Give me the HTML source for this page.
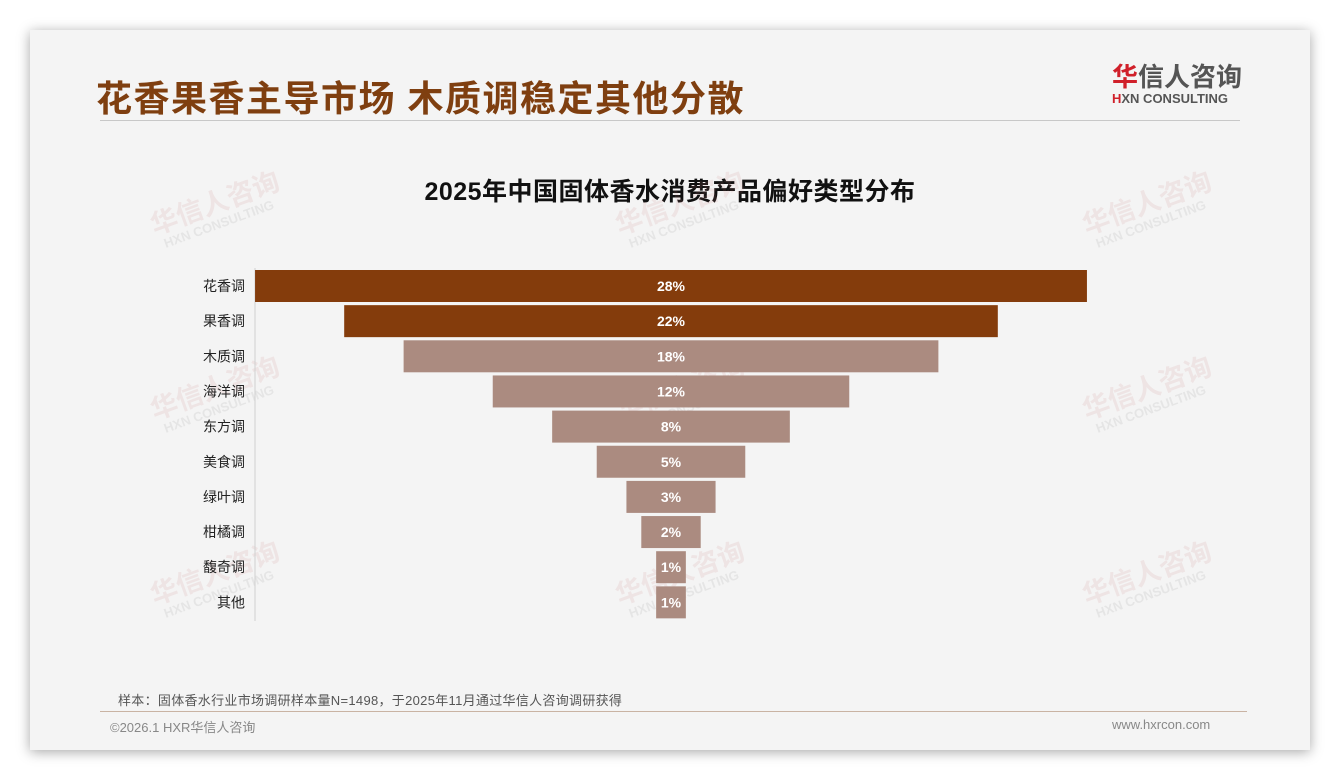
<!DOCTYPE html>
<html><head><meta charset="utf-8"><style>
*{margin:0;padding:0;box-sizing:border-box}
body{width:1340px;height:780px;background:#fff;position:relative;overflow:hidden;font-family:"Liberation Sans","Noto Sans CJK SC",sans-serif}
#card{position:absolute;left:30px;top:30px;width:1280px;height:720px;background:#f4f4f4;box-shadow:0 2px 12px rgba(0,0,0,.35)}
.abs{position:absolute}
.wm{position:absolute;transform:rotate(-20deg);color:rgba(200,120,120,.13);font-weight:bold;line-height:1}
.wm .a{font-size:27px}.wm .b{font-size:13px;margin-left:6px;color:rgba(150,150,150,.15)}
</style></head><body>
<div id="card"></div>
<div class="abs" style="left:96px;top:70px;font-size:36px;font-weight:bold;color:#7f3f10;letter-spacing:1.5px;white-space:nowrap">花香果香主导市场 木质调稳定其他分散</div>
<div class="abs" style="left:100px;top:120px;width:1140px;height:1px;background:#c8c8c8"></div>
<div class="abs" style="left:1112px;top:63px;text-align:left">
<div style="font-size:26px;font-weight:bold;color:#555;line-height:28px"><span style="color:#d0202a">华</span>信人咨询</div>
<div style="font-size:13px;font-weight:bold;color:#555;line-height:16px"><span style="color:#d0202a">H</span>XN CONSULTING</div></div>
<div class="abs" style="left:0;width:1340px;top:172px;text-align:center;font-size:25px;font-weight:bold;color:#111;letter-spacing:0.5px">2025年中国固体香水消费产品偏好类型分布</div>
<div id="wms"></div>
<svg class="abs" style="left:0;top:0" width="1340" height="780" id="chart"></svg>
<div class="abs" style="left:118px;top:690px;font-size:13px;color:#555;letter-spacing:0.3px">样本：固体香水行业市场调研样本量N=1498，于2025年11月通过华信人咨询调研获得</div>
<div class="abs" style="left:100px;top:711px;width:1147px;height:1px;background:#c9b3a3"></div>
<div class="abs" style="left:110px;top:717px;font-size:13px;color:#888">©2026.1 HXR华信人咨询</div>
<div class="abs" style="left:1112px;top:717px;font-size:13px;color:#888">www.hxrcon.com</div>
<script>
const categories=["花香调","果香调","木质调","海洋调","东方调","美食调","绿叶调","柑橘调","馥奇调","其他"];
const values=[28,22,18,12,8,5,3,2,1,1];
const labels=["28%","22%","18%","12%","8%","5%","3%","2%","1%","1%"];
const ns="http://www.w3.org/2000/svg";
const svg=document.getElementById('chart');
const cx=671,pxPer=29.71,top0=270,pitch=35.15,bh=32;
function xw(v){return v*pxPer;}
function yr(i){return top0+i*pitch;}
function mk(t,a){const e=document.createElementNS(ns,t);for(const k in a)e.setAttribute(k,a[k]);svg.appendChild(e);return e;}
const ax=mk('line',{x1:255,x2:255,y1:268,y2:621,stroke:'#d0d0d0','stroke-width':1});


values.forEach((v,i)=>{
 const w=xw(v),y=yr(i);
 const r=mk('rect',{x:cx-w/2,y:y,width:w,height:bh,fill:i<2?'#843c0c':'#ab8b80'});
 
 
 const t=mk('text',{x:cx,y:y+bh/2+5,'text-anchor':'middle','font-size':14,'font-weight':'bold',fill:'#fff'});
 t.textContent=labels[i];
 
 
 const c=mk('text',{x:245,y:y+bh/2+5,'text-anchor':'end','font-size':14,fill:'#222'});
 c.textContent=categories[i];
 
 
});
const wpos=[[150,190],[615,190],[1082,190],[150,375],[615,375],[1082,375],[150,560],[615,560],[1082,560]];
const wc=document.getElementById('wms');
wpos.forEach(p=>{const d=document.createElement('div');d.className='wm';d.style.left=p[0]+'px';d.style.top=p[1]+'px';
d.innerHTML='<div class="a">华信人咨询</div><div class="b">HXN CONSULTING</div>';


wc.appendChild(d);});
</script>
</body></html>
